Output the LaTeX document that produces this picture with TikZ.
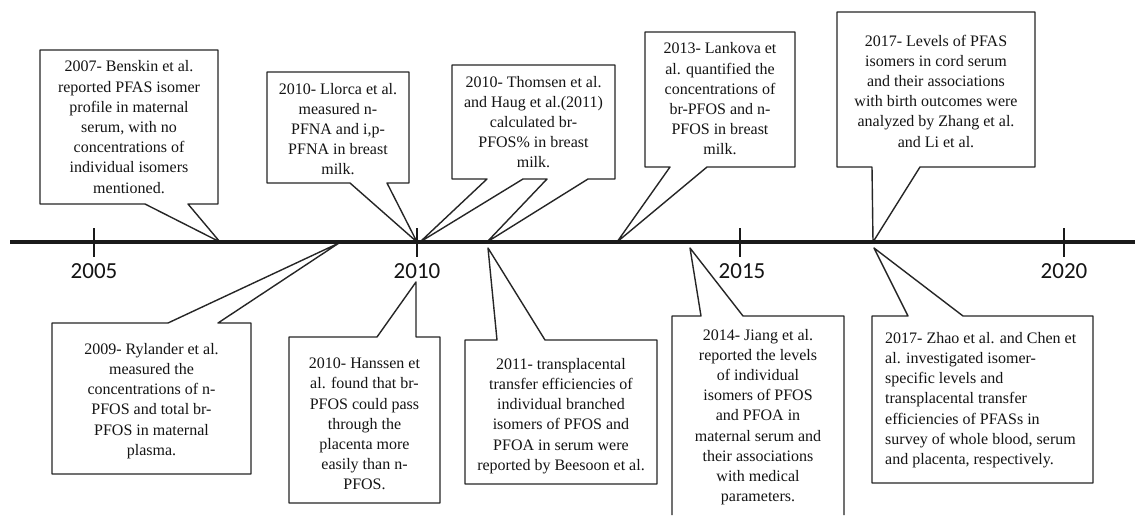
\documentclass[tikz,border=0pt]{standalone}
\usepackage{fontspec}
\setmainfont{Liberation Serif}
\newfontfamily\yearfont{Carlito}
\definecolor{linec}{HTML}{262626}
\definecolor{axisc}{HTML}{1A1A1A}
\definecolor{textc}{HTML}{141414}
\begin{document}
\begin{tikzpicture}[x=1pt,y=-1pt,
  callout/.style={draw=linec, line width=1.4pt, fill=white, line join=round},
  txt/.style={font=\fontsize{16}{20.2}\selectfont, align=center, inner sep=0pt, text=textc},
  axis/.style={line width=4pt, draw=axisc},
  tickmark/.style={line width=2.4pt, draw=axisc},
  yearlbl/.style={font=\yearfont\fontsize{23}{26}\selectfont, text=textc, inner sep=0pt}]
\useasboundingbox (0,0) rectangle (1135,515);
\fill[white] (0,0) rectangle (1135,515);

% pointer tips
\coordinate (pA) at (220,242);
\coordinate (pB) at (417,242);
\coordinate (pC1) at (420,242);
\coordinate (pC2) at (487,242);
\coordinate (pD) at (617,242);
\coordinate (pE) at (873,242);
\coordinate (pF) at (339,243);
\coordinate (pG) at (416,282);
\coordinate (pH) at (488,248);
\coordinate (pI) at (690,248);
\coordinate (pJ) at (874,248);

% callouts above
\draw[callout] (40,50) -- (218,50) -- (218,204) -- (188,204) -- (pA) -- (145,204) -- (40,204) -- cycle;
\draw[callout] (267,72) -- (409,72) -- (409,183) -- (387,183) -- (pB) -- (350,183) -- (267,183) -- cycle;
\draw[callout] (452,65) -- (615,65) -- (615,179) -- (588,179) -- (pC2) -- (547,179) -- (523,179) -- (pC1) -- (487,179) -- (452,179) -- cycle;
\draw[callout] (645,32) -- (795,32) -- (795,167) -- (707,167) -- (pD) -- (670,167) -- (645,167) -- cycle;
\draw[callout] (837,12) -- (1035,12) -- (1035,167) -- (920,167) -- (pE) -- (872,167) -- (837,167) -- cycle;
% callouts below
\draw[callout] (52,323) -- (168,323) -- (pF) -- (218,323) -- (251,323) -- (251,474) -- (52,474) -- cycle;
\draw[callout] (289,337) -- (377,337) -- (pG) -- (416,337) -- (440,337) -- (440,503) -- (289,503) -- cycle;
\draw[callout] (465,340) -- (497,340) -- (pH) -- (545,340) -- (657,340) -- (657,484) -- (465,484) -- cycle;
\draw[callout] (672,515) -- (672,316) -- (701,316) -- (pI) -- (743,316) -- (844,316) -- (844,515);
\draw[callout] (872,316) -- (908,316) -- (pJ) -- (963,316) -- (1093,316) -- (1093,483) -- (872,483) -- cycle;

% timeline
\coordinate (axL) at (10,242);
\coordinate (axR) at (1135,242);
\draw[axis] (axL) -- (axR);
\coordinate (y2005) at (94,242);
\coordinate (y2010) at (417,242);
\coordinate (y2015) at (740,242);
\coordinate (y2020) at (1064,242);
\foreach \c in {y2005,y2010,y2015,y2020}
  \draw[tickmark] ([yshift=14pt]\c) -- ([yshift=-15pt]\c);
\node[yearlbl] (l2005) at (94,271) {2005};
\node[yearlbl] (l2010) at (417,271) {2010};
\node[yearlbl] (l2015) at (742,271) {2015};
\node[yearlbl] (l2020) at (1064,271) {2020};

% texts
\node[txt] (tA) at (129,127) {2007- Benskin et al.\\reported PFAS isomer\\profile in maternal\\serum, with no\\concentrations of\\individual isomers\\mentioned.};
\node[txt] (tB) at (338,129) {2010- Llorca et al.\\measured n-\\PFNA and i,p-\\PFNA in breast\\milk.};
\node[txt] (tC) at (533.5,122) {2010- Thomsen et al.\\and Haug et al.(2011)\\calculated br-\\PFOS\% in breast\\milk.};
\node[txt] (tD) at (720,99) {2013- Lankova et\\al. quantified the\\concentrations of\\br-PFOS and n-\\PFOS in breast\\milk.};
\node[txt] (tE) at (936,91) {2017- Levels of PFAS\\isomers in cord serum\\and their associations\\with birth outcomes were\\analyzed by Zhang et al.\\and Li et al.};
\node[txt] (tF) at (151.5,401) {2009- Rylander et al.\\measured the\\concentrations of n-\\PFOS and total br-\\PFOS in maternal\\plasma.};
\node[txt] (tG) at (364.5,424) {2010- Hanssen et\\al. found that br-\\PFOS could pass\\through the\\placenta more\\easily than n-\\PFOS.};
\node[txt] (tH) at (561,416) {2011- transplacental\\transfer efficiencies of\\individual branched\\isomers of PFOS and\\PFOA in serum were\\reported by Beesoon et al.};
\node[txt] (tI) at (758,417) {2014- Jiang et al.\\reported the levels\\of individual\\isomers of PFOS\\and PFOA in\\maternal serum and\\their associations\\with medical\\parameters.};
\node[txt, align=left, anchor=west] (tJ) at (885,400) {2017- Zhao et al. and Chen et\\al. investigated isomer-\\specific levels and\\transplacental transfer\\efficiencies of PFASs in\\survey of whole blood, serum\\and placenta, respectively.};
\end{tikzpicture}
\end{document}
